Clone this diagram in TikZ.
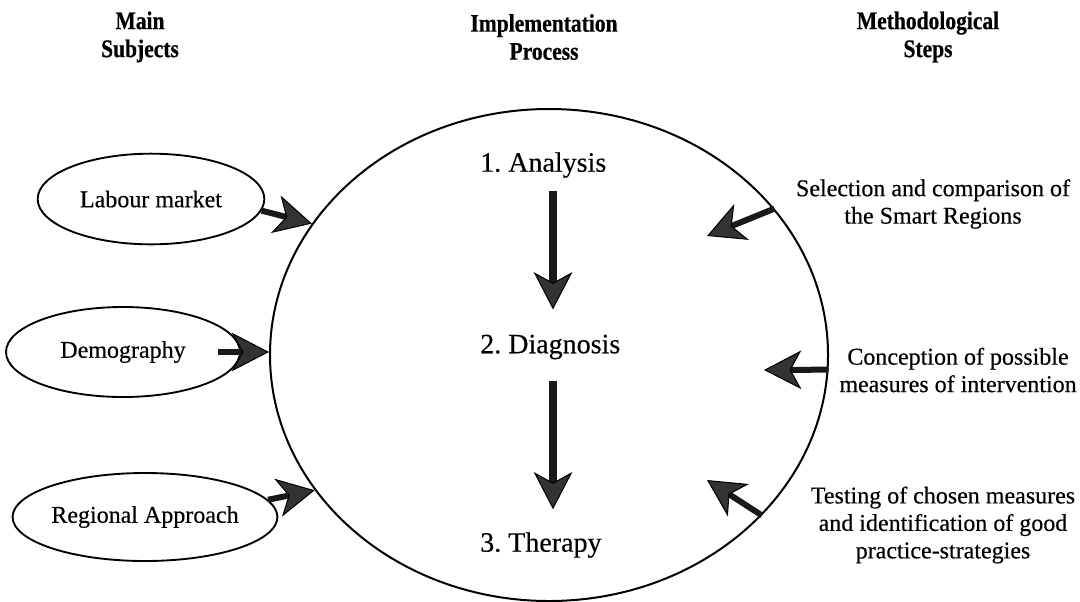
\documentclass[tikz,border=0pt]{standalone}
\usepackage{fontspec}
\setmainfont{Liberation Serif}[FakeBold=0.4]
\newfontfamily\headfont{Liberation Serif}[FakeStretch=0.85,FakeBold=0.6]
\usetikzlibrary{arrows.meta,shapes.geometric}
\frenchspacing
\begin{document}
\frenchspacing
\begin{tikzpicture}[x=0.75pt,y=-0.75pt,
  subj/.style={ellipse,draw,line width=1.4pt,inner sep=0pt,font=\fontsize{18}{21}\selectfont},
  stepnode/.style={font=\fontsize{21}{24}\selectfont,anchor=west,inner sep=0pt},
  methtext/.style={align=center,font=\fontsize{18}{20.6}\selectfont,inner sep=0pt},
  headtext/.style={align=center,font=\headfont\bfseries\fontsize{19}{21}\selectfont,inner sep=0pt},
  fatarrow/.style={line width=4.5pt,draw=black!90,
    -{Stealth[length=28pt,width=29pt,inset=8pt,fill=black!80,color=black,line width=0.8pt]}},
  widearrow/.style={fatarrow,line width=5.5pt}
]
\useasboundingbox (0,0) rectangle (1080,601);

% headers
\node[headtext] (h1) at (140,37) {Main\\Subjects};
\node[headtext] (h2) at (544,37) {Implementation\\Process};
\node[headtext] (h3) at (928,37) {Methodological\\Steps};

% big circle
\node[ellipse,draw,line width=1.5pt,minimum width=418.5pt,minimum height=369pt,inner sep=0pt] (proc) at (549,355) {};

% subjects
\node[subj,minimum width=170pt,minimum height=68pt] (lab) at (151,199) {Labour market};
\node[subj,minimum width=175.5pt,minimum height=67.5pt] (dem) at (123,352) {Demography};
\node[subj,minimum width=180pt,minimum height=66pt] (reg) at (145,517) {Regional Approach};

% steps
\node[stepnode] (an) at (480,165) {1. Analysis};
\node[stepnode] (dg) at (480,347) {2. Diagnosis};
\node[stepnode] (th) at (480,545) {3. Therapy};
\coordinate (axis) at (553,0);

% methodological texts
\node[methtext] (m1) at (933,204) {Selection and comparison of\\the Smart Regions};
\node[methtext] (m2) at (958,370) {Conception of possible\\measures of intervention};
\node[methtext] (m3) at (943,525) {Testing of chosen measures\\and identification of good\\practice-strategies};

% left arrows
\draw[fatarrow] (lab.-6) -- (proc.151);
\draw[fatarrow] ([xshift=-17pt]dem.east) -- (dem.east -| proc.west);
\draw[fatarrow] (reg.8) -- (proc.210);

% centre arrows
\draw[widearrow,shorten <=9.75pt,shorten >=18.75pt] (an.south -| axis) -- (dg.north -| axis);
\draw[widearrow,shorten <=15.75pt,shorten >=17pt] (dg.south -| axis) -- (th.north -| axis);

% right arrows
\coordinate (s1) at (707,236);
\coordinate (s2) at (764,370);
\coordinate (s3) at (707,480);
\draw[fatarrow] (proc.33.5) -- (s1);
\draw[fatarrow] (proc.357) -- (s2);
\draw[fatarrow] (proc.323.5) -- (s3);
\end{tikzpicture}
\end{document}
